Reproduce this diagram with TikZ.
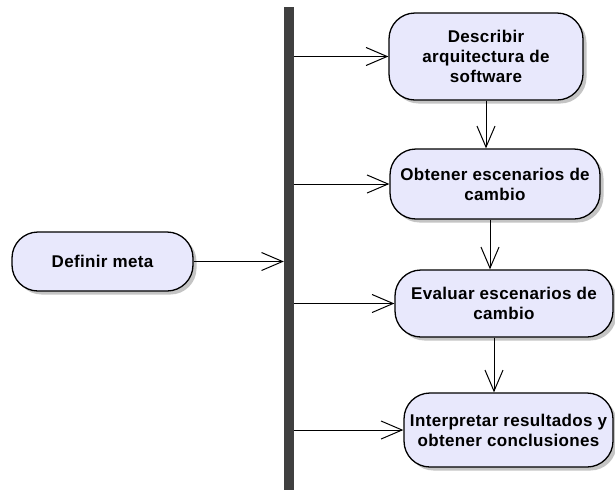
\documentclass[tikz,border=0pt]{standalone}
\usepackage{fontspec}
\setmainfont{Liberation Sans}
\usetikzlibrary{arrows.meta,shadows}
\definecolor{actfill}{HTML}{E8E8FC}
\definecolor{barc}{HTML}{404040}
\definecolor{shadowc}{HTML}{C4C4C4}
\begin{document}
\begin{tikzpicture}[x=1pt,y=-1pt,
  activity/.style={draw=black, line width=1.3pt, fill=actfill, rounded corners=26pt,
    align=center, inner sep=0pt,
    font=\fontsize{17}{20}\selectfont\bfseries\addfontfeature{LetterSpace=2},
    drop shadow={shadow xshift=3.5pt, shadow yshift=-3.5pt, fill=shadowc, opacity=1}},
  flow/.style={draw=black, line width=1pt, -{Straight Barb[length=21pt,width=18pt,line width=1pt]}}]
\useasboundingbox (0,0) rectangle (615,491);

% fork bar
\node[fill=barc, inner sep=0pt, minimum width=10pt, minimum height=483pt] (bar) at (289,248.5) {};

% activities
\node[activity, minimum width=181pt, minimum height=59pt] (meta) at (102.5,261.5) {Definir meta};
\node[activity, minimum width=194pt, minimum height=87pt] (desc) at (486,56.5) {Describir\\arquitectura de\\software};
\node[activity, minimum width=210pt, minimum height=70pt] (obt) at (495,184) {Obtener escenarios de\\cambio};
\node[activity, minimum width=218pt, minimum height=67pt] (eval) at (504,303.5) {Evaluar escenarios de\\cambio};
\node[activity, minimum width=209pt, minimum height=74pt] (interp) at (508.5,430) {Interpretar resultados y\\obtener conclusiones};

% column positions of the downward flows
\coordinate (c1) at (486,0);
\coordinate (c2) at (490,0);
\coordinate (c3) at (494,0);

% flows
\draw[flow] (meta.east) -- (meta.east -| bar.west);
\draw[flow] (bar.east |- desc.west) -- (desc.west);
\draw[flow] (bar.east |- obt.west) -- (obt.west);
\draw[flow] (bar.east |- eval.west) -- (eval.west);
\draw[flow] (bar.east |- interp.west) -- (interp.west);
\draw[flow] (c1 |- desc.south) -- (c1 |- obt.north);
\draw[flow] (c2 |- obt.south) -- (c2 |- eval.north);
\draw[flow] (c3 |- eval.south) -- (c3 |- interp.north);
\end{tikzpicture}
\end{document}
